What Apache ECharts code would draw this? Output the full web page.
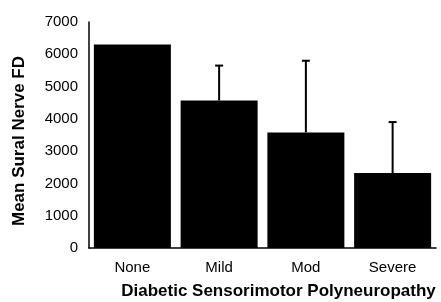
<!DOCTYPE html>
<html>
<head>
<meta charset="utf-8">
<script src="https://cdn.jsdelivr.net/npm/echarts@6/dist/echarts.min.js"></script>
<style>
  html, body { margin: 0; padding: 0; background: #fff; }
  #chart { width: 441px; height: 302px; }
</style>
</head>
<body>
<div id="chart"></div>
<script>
// groups and values
var categories = ["None", "Mild", "Mod", "Severe"];
var means = [6300, 4570, 3580, 2320];
var errors = [0, 1080, 2220, 1580];
var yTicks = [0, 1000, 2000, 3000, 4000, 5000, 6000, 7000];

var font = "Liberation Sans, Arial, sans-serif";
var myChart = echarts.init(document.getElementById("chart"));

var errData = categories.map(function (c, i) {
  return [i, means[i], means[i] + errors[i]];
});

var option = {
  animation: false,
  grid: { left: 89, right: 5, top: 22, bottom: 54, outerBoundsMode: "none" },
  xAxis: {
    type: "category",
    data: categories,
    axisTick: { show: false },
    axisLine: { lineStyle: { color: "#000", width: 1.5 } },
    axisLabel: { color: "#000", fontSize: 15, fontFamily: font, margin: 12 },
    name: "Diabetic Sensorimotor Polyneuropathy",
    nameLocation: "middle",
    nameGap: 35,
    nameTextStyle: {
      color: "#000",
      fontSize: 17,
      fontWeight: "bold",
      fontFamily: font,
      padding: [0, 0, 0, 32],
    },
  },
  yAxis: {
    type: "value",
    min: yTicks[0],
    max: yTicks[yTicks.length - 1],
    interval: 1000,
    splitLine: { show: false },
    axisTick: { show: false },
    axisLine: { show: true, lineStyle: { color: "#000", width: 1.5 } },
    axisLabel: {
      color: "#000",
      fontSize: 15,
      fontFamily: font,
      margin: 11,
      formatter: function (v) { return String(v); },
    },
    name: "Mean Sural Nerve FD",
    nameLocation: "middle",
    nameGap: 61,
    nameTextStyle: {
      color: "#000",
      fontSize: 17,
      fontWeight: "bold",
      fontFamily: font,
      padding: [0, 12, 0, 0],
    },
  },
  series: [
    {
      type: "bar",
      data: means,
      barWidth: 77,
      itemStyle: { color: "#000" },
    },
    {
      type: "custom",
      data: errData,
      z: 3,
      renderItem: function (params, api) {
        var x = api.value(0);
        var lo = api.coord([x, api.value(1)]);
        var hi = api.coord([x, api.value(2)]);
        if (hi[1] >= lo[1]) return null;
        var style = { stroke: "#000", lineWidth: 2 };
        return {
          type: "group",
          children: [
            { type: "line", shape: { x1: lo[0], y1: lo[1], x2: hi[0], y2: hi[1] }, style: style },
            { type: "line", shape: { x1: hi[0] - 4, y1: hi[1], x2: hi[0] + 4, y2: hi[1] }, style: style },
          ],
        };
      },
    },
  ],
};
myChart.setOption(option);
</script>
</body>
</html>
